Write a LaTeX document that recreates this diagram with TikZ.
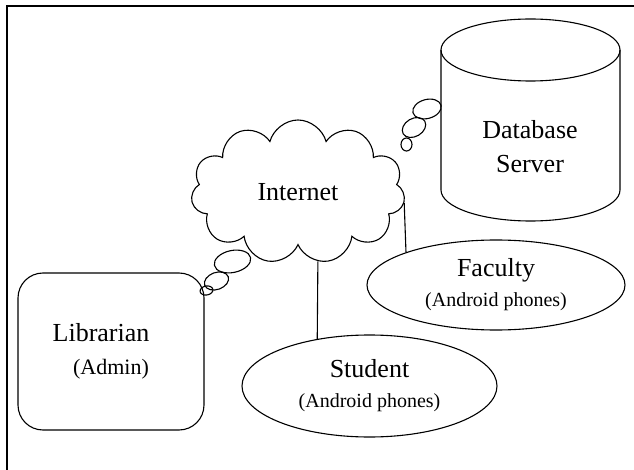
\documentclass[tikz,border=0pt]{standalone}
\usepackage{fontspec}
\setmainfont{Liberation Serif}
\usetikzlibrary{shapes.geometric,shapes.symbols,positioning,calc}
\newcommand{\subfont}{\fontsize{20}{24}\selectfont}

\begin{document}
\begin{tikzpicture}[x=1pt, y=-1pt, line width=1.1pt,
  oval/.style={ellipse, draw, inner sep=0pt, align=center, font=\fontsize{26}{30}\selectfont},
  bubble/.style={ellipse, draw, inner sep=0pt}
]
  \useasboundingbox (0,0) rectangle (634,470);

  % Frame
  \draw[line width=1.4pt] (634,6) -- (7,6) -- (7,470);

  % Database cylinder
  \draw (530.5,50) ellipse [x radius=89.5, y radius=31];
  \draw (441,50) -- (441,190) arc[start angle=180, end angle=0, x radius=89.5, y radius=31] -- (620,50);
  \node[align=center, font=\fontsize{26}{34}\selectfont] (db) at (530,147) {Database\\Server};

  % Nodes
  \node[cloud, draw, cloud puffs=11, aspect=1.5, minimum width=214, minimum height=144,
    inner sep=0pt, font=\fontsize{26}{30}\selectfont] (net) at (298,192) {Internet};
  \node[draw, rounded corners=25pt, minimum width=186, minimum height=157, align=center,
    font=\fontsize{26}{33}\selectfont] (lib) at (111,351.5)
    {Librarian\hspace*{20pt}\\{\fontsize{22}{26}\selectfont(Admin)}};
  \node[oval, minimum width=258, minimum height=90] (fac) at (496,285)
    {Faculty\\{\subfont (Android phones)}};
  \node[oval, minimum width=255, minimum height=102] (stu) at (369.5,386)
    {Student\\{\subfont (Android phones)}};

  % Bubbles
  \node[bubble, minimum width=29, minimum height=19, rotate=15] (db1) at (427,109) {};
  \node[bubble, minimum width=25, minimum height=18, rotate=30] (db2) at (414,127.5) {};
  \node[bubble, minimum width=11, minimum height=13] (db3) at (406.5,144.5) {};
  \node[bubble, minimum width=37, minimum height=22, rotate=12] (lb1) at (232.5,261.5) {};
  \node[bubble, minimum width=25, minimum height=17, rotate=20] (lb2) at (216.5,281) {};
  \node[bubble, minimum width=13, minimum height=9, rotate=10] (lb3) at (206.5,290.5) {};

  % Links
  \draw (net.-6) -- (fac.160);
  \draw (net.-74) -- (stu.138);
\end{tikzpicture}
\end{document}
